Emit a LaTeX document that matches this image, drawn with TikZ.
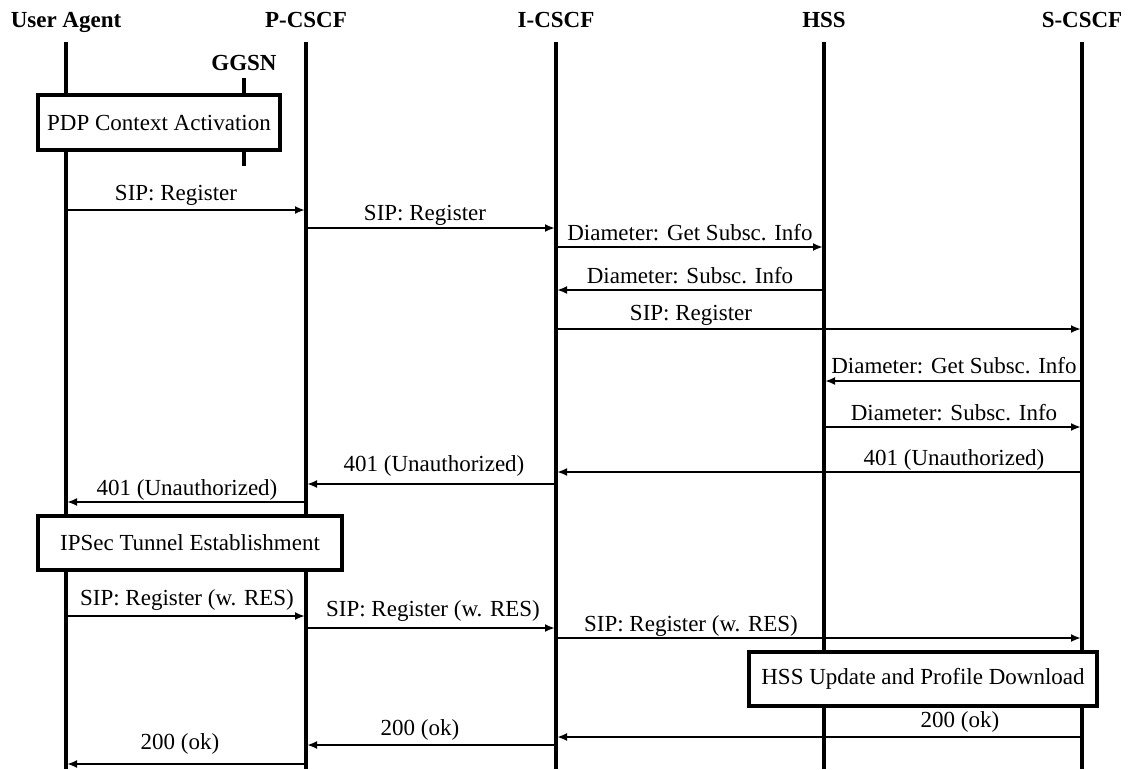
\documentclass[tikz,border=0pt]{standalone}
\usepackage{fontspec}
\setmainfont{Liberation Serif}
\usetikzlibrary{arrows.meta}
\tikzset{
  head/.style={font=\fontsize{23}{26}\selectfont\bfseries, inner sep=0pt, anchor=base},
  lifeline/.style={line width=3.4pt},
  msg/.style={line width=2.8pt, -{Latex[length=10pt,width=8pt]}, shorten >=1pt},
  lbl/.style={font=\fontsize{23}{26}\selectfont, inner sep=0pt, anchor=base},
  procbox/.style={draw, line width=3.4pt, fill=white, font=\fontsize{23}{26}\selectfont, inner sep=0pt},
}
\begin{document}
\begin{tikzpicture}[x=1pt,y=-1pt]
\useasboundingbox (0,0) rectangle (1130,769);
% headers
\node[head] (ua) at (66,27) {User Agent};
\node[head] (pc) at (306,27) {P-CSCF};
\node[head] (ic) at (556,27) {I-CSCF};
\node[head] (hss) at (824,27) {HSS};
\node[head] (sc) at (1082,27) {S-CSCF};
\node[head] (gg) at (244,70) {GGSN};
% lifelines
\foreach \n in {ua,pc,ic,hss,sc} {
  \draw[lifeline] (\n |- 0,42) -- (\n |- 0,769);
}
\draw[lifeline] (gg |- 0,78) -- (gg |- 0,166);
% boxes
\node[procbox, minimum width=242pt, minimum height=55pt] (pdp) at (159,122.5) {PDP Context Activation};
\node[procbox, minimum width=304pt, minimum height=54pt] (ipsec) at (190,543) {IPSec Tunnel Establishment};
\node[procbox, line width=4.4pt, minimum width=348pt, minimum height=54pt] (hssbox) at (923,679) {HSS Update and Profile Download};
% messages
\draw[msg] (ua |- 0,210) -- (pc |- 0,210);
\node[lbl] (l1) at (176,200) {SIP: Register};
\draw[msg] (pc |- 0,228) -- (ic |- 0,228);
\node[lbl] (l2) at (425,220) {SIP: Register};
\draw[msg] (ic |- 0,247) -- (hss |- 0,247);
\node[lbl] (l3) at (690,240) {Diameter: Get Subsc. Info};
\draw[msg] (hss |- 0,290) -- (ic |- 0,290);
\node[lbl] (l4) at (690,283) {Diameter: Subsc. Info};
\draw[msg] (ic |- 0,329) -- (sc |- 0,329);
\node[lbl] (l5) at (691,320) {SIP: Register};
\draw[msg] (sc |- 0,381) -- (hss |- 0,381);
\node[lbl] (l6) at (954,373) {Diameter: Get Subsc. Info};
\draw[msg] (hss |- 0,427) -- (sc |- 0,427);
\node[lbl] (l7) at (954,420) {Diameter: Subsc. Info};
\draw[msg] (sc |- 0,472) -- (ic |- 0,472);
\node[lbl] (l8) at (954,465) {401 (Unauthorized)};
\draw[msg] (ic |- 0,484) -- (pc |- 0,484);
\node[lbl] (l9) at (434,471) {401 (Unauthorized)};
\draw[msg] (pc |- 0,502) -- (ua |- 0,502);
\node[lbl] (l10) at (187,495) {401 (Unauthorized)};
\draw[msg] (ua |- 0,616) -- (pc |- 0,616);
\node[lbl] (l11) at (187,605) {SIP: Register (w. RES)};
\draw[msg] (pc |- 0,628) -- (ic |- 0,628);
\node[lbl] (l12) at (433,616) {SIP: Register (w. RES)};
\draw[msg] (ic |- 0,638) -- (sc |- 0,638);
\node[lbl] (l13) at (691,631) {SIP: Register (w. RES)};
\draw[msg] (sc |- 0,737) -- (ic |- 0,737);
\node[lbl] (l14) at (960,727) {200 (ok)};
\draw[msg] (ic |- 0,745) -- (pc |- 0,745);
\node[lbl] (l15) at (420,735) {200 (ok)};
\draw[msg] (pc |- 0,764) -- (ua |- 0,764);
\node[lbl] (l16) at (180,749) {200 (ok)};
\end{tikzpicture}
\end{document}
